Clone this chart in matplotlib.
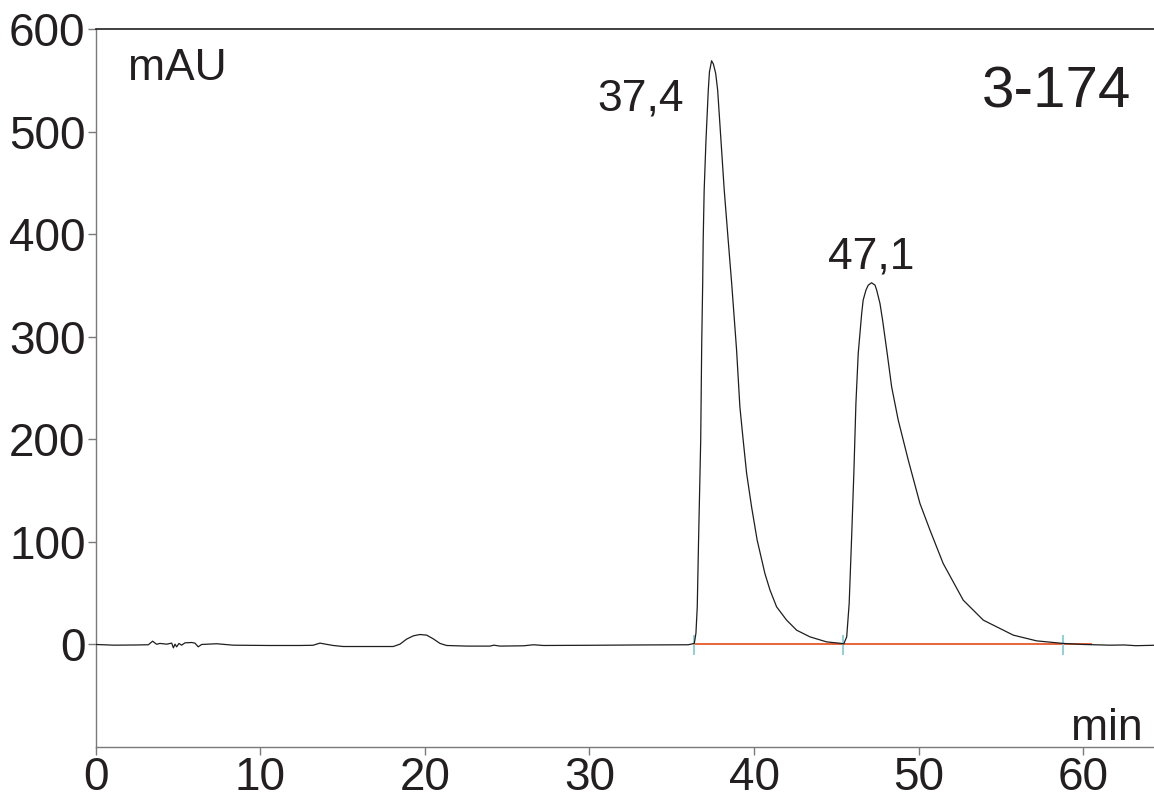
import numpy as np
import matplotlib
matplotlib.use("Agg")
import matplotlib.pyplot as plt

plt.rcParams["font.family"] = ["Liberation Sans", "DejaVu Sans"]

# chromatogram trace, sample 3-174 (time in min, signal in mAU)
time = [
    0.0, 1.1, 2.5, 3.2, 3.46, 3.7, 3.91, 4.31, 4.62, 4.72, 4.82, 4.92, 5.06,
    5.22, 5.43, 5.83, 6.03, 6.23, 6.44, 7.35, 8.36, 10.5, 12.41, 13.2, 13.63,
    14.0, 14.44, 15.04, 17.0, 18.08, 18.49, 18.89, 19.30, 19.70, 20.11, 20.51,
    20.92, 21.32, 22.54, 23.95, 24.2, 24.56, 26.0, 26.6, 27.2, 30.0, 33.0,
    36.0, 36.37, 36.47, 36.55, 36.63, 36.76, 36.82, 36.88, 36.91, 36.97,
    37.08, 37.22, 37.29, 37.42, 37.53, 37.67, 37.79, 37.99, 38.19, 38.43,
    38.64, 38.94, 39.14, 39.34, 39.55, 39.85, 40.19, 40.66, 40.97, 41.37,
    41.98, 42.59, 43.40, 44.41, 45.32, 45.45, 45.63, 45.78, 45.93, 46.07,
    46.19, 46.33, 46.54, 46.63, 46.80, 46.94, 47.14, 47.35, 47.45, 47.65,
    47.81, 48.09, 48.36, 48.76, 49.37, 50.08, 50.69, 51.49, 52.71, 53.93,
    55.75, 57.17, 58.79, 60.0, 61.62, 62.5, 63.2, 64.3,
]
signal = [
    0.0, -0.7, -0.5, -0.3, 3.2, 0.2, 1.0, 0.3, 1.3, -3.3, 0.3, -2.3, 1.0,
    -0.7, 1.6, 1.9, 1.3, -2.3, 0.0, 0.7, -0.7, -1.0, -1.0, -0.8, 1.3,
    0.2, -1.0, -2.0, -2.0, -2.0, 0.3, 5.2, 8.4, 9.7, 9.1, 5.5,
    1.0, -1.0, -1.6, -1.6, -0.7, -1.6, -1.3, -0.3, -1.0, -0.8, -0.5,
    -0.3, 1.0, 11.0, 36.7, 101.7, 199.3, 292.0, 352.4, 394.1, 442.9,
    491.7, 540.5, 558.2, 569.2, 566.0, 556.9, 540.5, 491.7, 442.9, 394.1,
    352.4, 287.0, 231.7, 199.3, 166.8, 134.2, 101.7, 69.2, 53.0, 36.7,
    23.7, 13.9, 7.4, 2.5, 1.0, 0.5, 7.4, 40.0, 104.9, 170.0,
    235.3, 283.8, 322.8, 335.8, 345.6, 350.4, 352.7, 350.4, 345.6, 332.6,
    316.3, 283.8, 251.2, 218.8, 179.8, 137.5, 111.5, 79.0, 43.2, 23.7,
    9.1, 3.5, 1.0, 0.0, -0.7, -0.5, -1.2, -0.8,
]

peak_times = [37.4, 47.1]
peak_heights = [569.2, 352.7]
peak_labels = ["37,4", "47,1"]
baseline_marks = [36.37, 45.4, 58.8]
baseline_span = [36.37, 60.5]

ink = "#231f20"
axis_grey = "#7a7a7a"

fig = plt.figure(figsize=(11.54, 7.93), dpi=100)
ax = fig.add_axes([0.0829, 0.058, 0.9171, 0.9052])

# integration baseline and peak start/end marks
ax.plot(baseline_span, [0, 0], color="#e8643a", lw=1.4, zorder=2)
for t in baseline_marks:
    ax.plot([t, t], [-9, 8], color="#92d0d6", lw=1.4, zorder=3)

ax.plot(time, signal, color="#1e1e1e", lw=0.9, zorder=4)

ax.set_xlim(0, 64.3)
ax.set_ylim(-100, 600)
ax.set_xticks(np.arange(0, 61, 10))
ax.set_yticks(np.arange(0, 601, 100))

for side in ["left", "bottom"]:
    ax.spines[side].set_color(axis_grey)
    ax.spines[side].set_linewidth(1.0)
ax.spines["top"].set_color(ink)
ax.spines["top"].set_linewidth(1.2)
ax.spines["right"].set_visible(False)

ax.tick_params(axis="both", direction="out", length=5.8, width=1.0,
               color=axis_grey, labelsize=33, labelcolor=ink)
ax.tick_params(axis="y", pad=1.5)
ax.tick_params(axis="x", pad=1)

# peak retention time labels
ax.text(peak_times[0] - 1.68, 521, peak_labels[0], fontsize=32, color=ink,
        ha="right", va="baseline")
ax.text(peak_times[1], peak_heights[1] + 14, peak_labels[1], fontsize=32,
        color=ink, ha="center", va="baseline")

ax.text(1.96, 550, "mAU", fontsize=32, color=ink, ha="left", va="baseline")
ax.text(62.94, 524, "3-174", fontsize=42, color=ink, ha="right", va="baseline")
ax.text(63.63, -93, "min", fontsize=32, color=ink, ha="right", va="baseline")

fig.savefig("out.png", dpi=100)
